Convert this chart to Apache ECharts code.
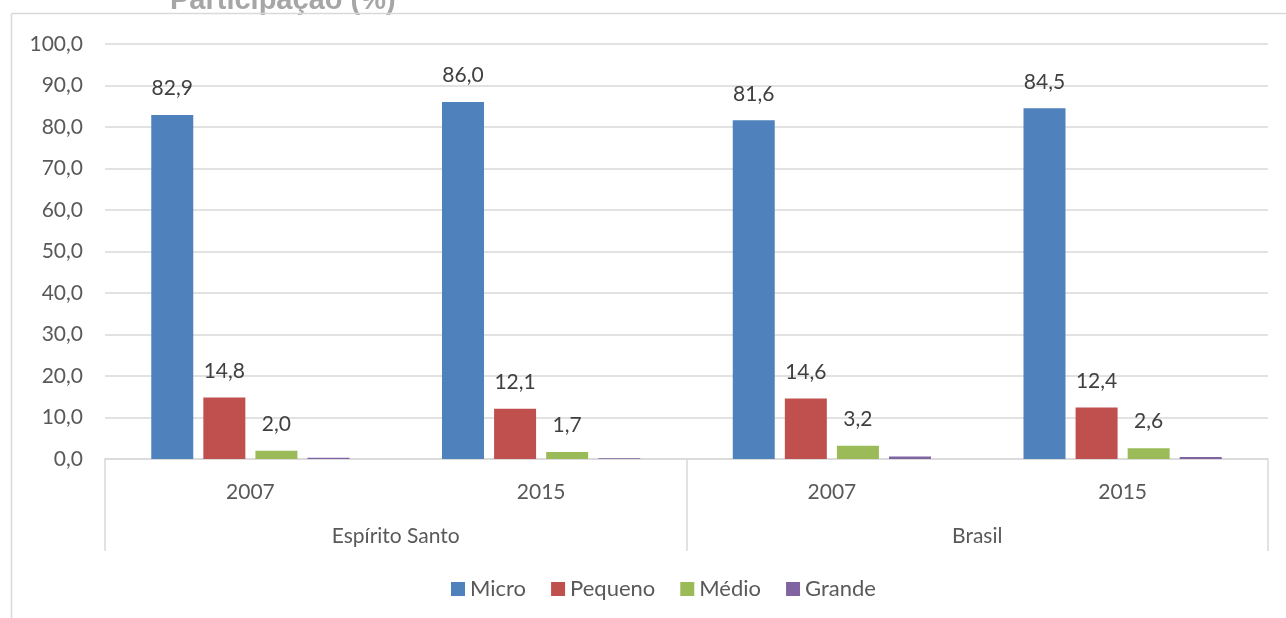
<!DOCTYPE html>
<html>
<head>
<meta charset="utf-8">
<script src="https://cdn.jsdelivr.net/npm/echarts@6/dist/echarts.min.js"></script>
<style>
html,body{margin:0;padding:0;background:#fff;}
#c{width:1286px;height:618px;}
</style>
</head>
<body>
<div id="c"></div>
<script>
const years = ['2007', '2015', '2007', '2015'];
const regions = ['Espírito Santo', 'Brasil'];
const seriesNames = ['Micro', 'Pequeno', 'Médio', 'Grande'];
const micro = [82.9, 86.0, 81.6, 84.5];
const pequeno = [14.8, 12.1, 14.6, 12.4];
const medio = [2.0, 1.7, 3.2, 2.6];
const grande = [0.3, 0.2, 0.6, 0.5];
const yTicks = { min: 0, max: 100, interval: 10 };
const titleText = 'Participação (%)';

const colors = ['#4F81BD', '#C0504D', '#9BBB59', '#8064A2'];
const FONT = 'Lato';
const FS = 21;
const fmt = v => v.toFixed(1).replace('.', ',');

const chart = echarts.init(document.getElementById('c'), null, { renderer: 'canvas' });
const mk = (name, data, color, showLabel) => ({
  name, type: 'bar', data, xAxisIndex: 0,
  barWidth: 42, barGap: '24%',
  itemStyle: { color },
  label: {
    show: showLabel, position: 'top', distance: 16,
    formatter: p => fmt(p.value),
    color: '#404040', fontFamily: FONT, fontSize: FS
  }
});
chart.setOption({
  animation: false,
  backgroundColor: '#fff',
  title: {
    text: titleText, left: 165, top: -19,
    textStyle: { color: '#a6a6a6', fontFamily: 'Liberation Sans', fontWeight: 'bold', fontSize: 29 }
  },
  graphic: [
    { type: 'line', shape: { x1: 11.5, y1: 13.5, x2: 1290, y2: 13.5 }, style: { stroke: '#d9d9d9', lineWidth: 1.5 }, z: 10 },
    { type: 'line', shape: { x1: 11.5, y1: 13.5, x2: 11.5, y2: 620 }, style: { stroke: '#d9d9d9', lineWidth: 1.5 }, z: 10 }
  ],
  legend: {
    data: seriesNames, bottom: 13, left: 446,
    itemWidth: 14, itemHeight: 14, itemGap: 25, icon: 'rect',
    textStyle: { color: '#595959', fontFamily: FONT, fontSize: 22 }
  },
  grid: { left: 105, right: 18, top: 44, bottom: 159, containLabel: false },
  xAxis: [
    {
      type: 'category', data: years, position: 'bottom',
      axisLine: { lineStyle: { color: '#d9d9d9', width: 1.5 } },
      axisTick: { show: false },
      axisLabel: { color: '#595959', fontFamily: FONT, fontSize: FS, margin: 23 }
    },
    {
      type: 'category', data: regions, position: 'bottom', offset: 92,
      axisLine: { show: false },
      axisTick: { show: true, inside: true, length: 92, lineStyle: { color: '#d9d9d9', width: 1.5 } },
      axisLabel: { inside: true, color: '#595959', fontFamily: FONT, fontSize: FS, margin: 4 },
      splitLine: { show: false }
    }
  ],
  yAxis: {
    type: 'value', min: yTicks.min, max: yTicks.max, interval: yTicks.interval,
    axisLine: { show: false }, axisTick: { show: false },
    splitLine: { lineStyle: { color: '#d9d9d9', width: 1.5 } },
    axisLabel: { color: '#595959', fontFamily: FONT, fontSize: FS, margin: 22, formatter: v => fmt(v) }
  },
  series: [
    mk('Micro', micro, colors[0], true),
    mk('Pequeno', pequeno, colors[1], true),
    mk('Médio', medio, colors[2], true),
    mk('Grande', grande, colors[3], false)
  ]
});
</script>
</body>
</html>
